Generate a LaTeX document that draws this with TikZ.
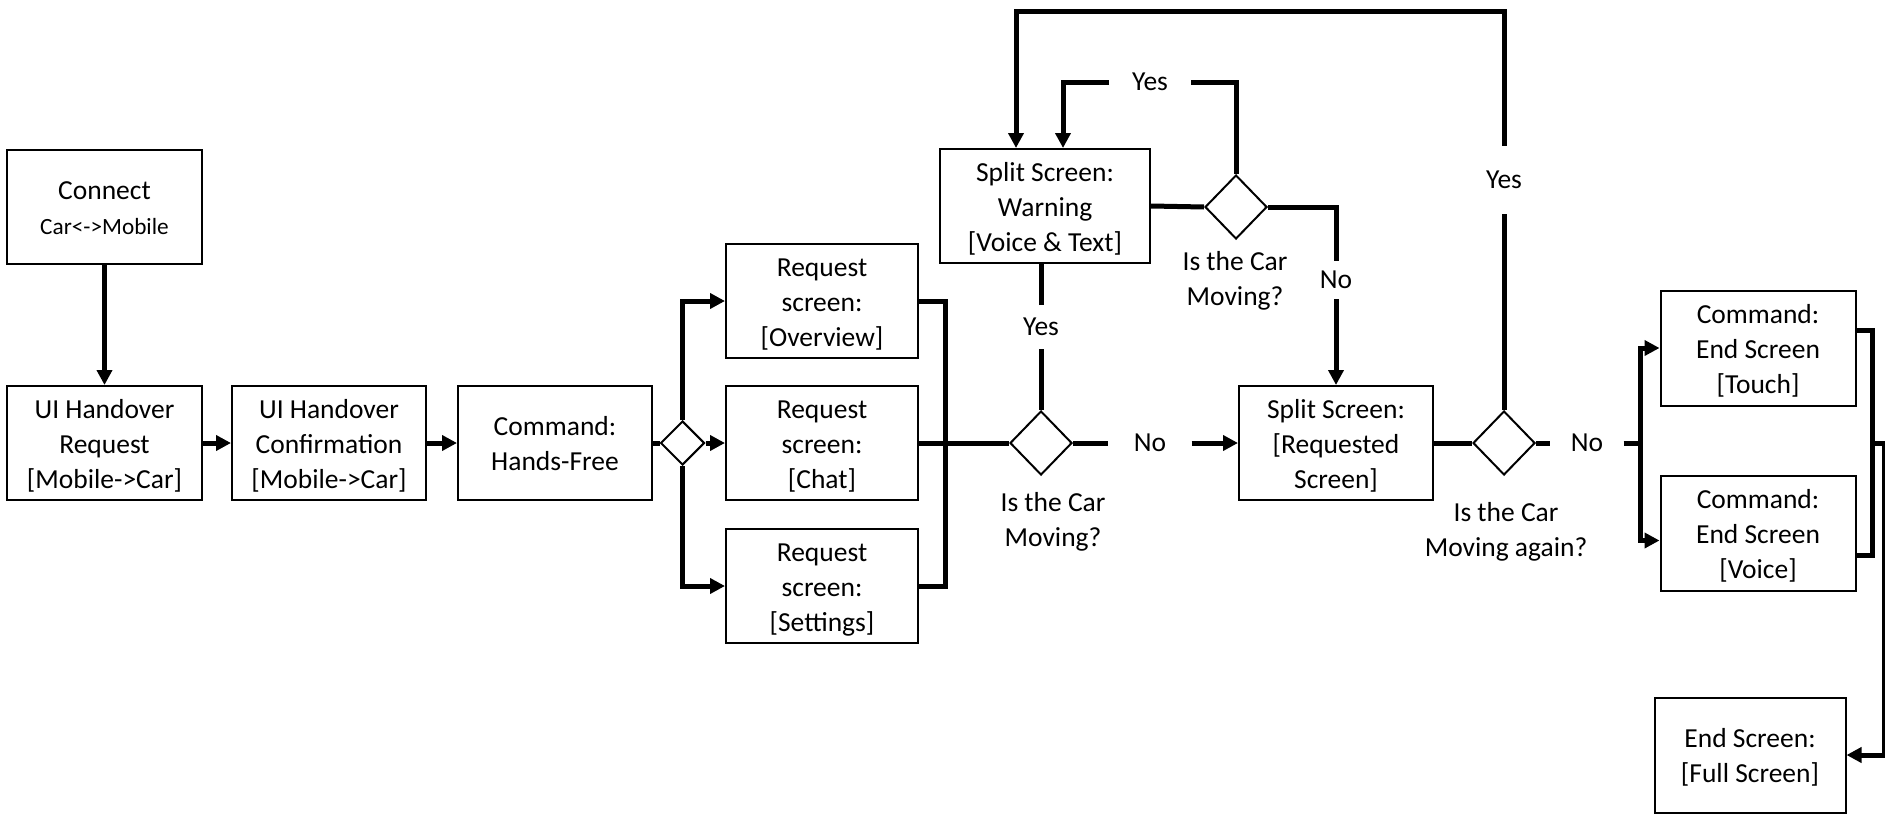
\documentclass[tikz,border=0pt]{standalone}
\usepackage{fontspec}
\setmainfont{Carlito}
\usetikzlibrary{shapes.geometric,arrows.meta}
\newcommand\bxtop{\rule{0pt}{11pt}}
\begin{document}
\begin{tikzpicture}[x=0.4pt,y=-0.4pt,
  txt/.style={font=\fontsize{11}{14}\selectfont,align=center},
  box/.style={txt,draw,line width=0.8pt,minimum width=77.6pt,minimum height=45.6pt,inner sep=1pt,text depth=3pt},
  dsmall/.style={draw,diamond,line width=0.8pt,inner sep=0pt,minimum width=17.6pt,minimum height=17.6pt},
  dbig/.style={draw,diamond,line width=0.8pt,inner sep=0pt,minimum width=24.8pt,minimum height=25.6pt},
  conn/.style={line width=2pt},
  arr/.style={conn,-{Triangle[length=6pt,width=6pt]}},
  lbl/.style={txt,inner xsep=10pt,inner ysep=3pt},
  lblv/.style={txt,inner xsep=3pt,inner ysep=5pt}]
\useasboundingbox (0,0) rectangle (1885,813);
% boxes
\node[box] (conn) at (104.5,207) {\bxtop Connect\\{\fontsize{9.3}{11}\selectfont Car<->Mobile}};
\node[box] (uireq) at (104.5,443) {\bxtop UI Handover\\Request\\{}[Mobile->Car]};
\node[box] (uiconf) at (329,443) {\bxtop UI Handover\\Confirmation\\{}[Mobile->Car]};
\node[box] (cmd) at (555,443) {\bxtop Command:\\Hands-Free};
\node[dsmall] (d1) at (682.5,443) {};
\node[box,minimum width=76.8pt] (ov) at (822,301) {\bxtop Request\\screen:\\{}[Overview]};
\node[box,minimum width=76.8pt] (chat) at (822,443) {\bxtop Request\\screen:\\{}[Chat]};
\node[box,minimum width=76.8pt] (set) at (822,586) {\bxtop Request\\screen:\\{}[Settings]};
\node[dbig] (d2) at (1041,443) {};
\node[box,minimum width=84pt] (warn) at (1045,206) {\bxtop Split Screen:\\Warning\\{}[Voice \& Text]};
\node[dbig] (d3) at (1236,207) {};
\node[box] (req) at (1336,443) {\bxtop Split Screen:\\{}[Requested\\Screen]};
\node[dbig] (d4) at (1504,443) {};
\node[box,minimum width=78pt,minimum height=46pt] (touch) at (1758,348) {\bxtop Command:\\End Screen\\{}[Touch]};
\node[box,minimum width=78pt,minimum height=46pt] (voice) at (1758,533) {\bxtop Command:\\End Screen\\{}[Voice]};
\node[box,minimum width=76.4pt,minimum height=46pt] (full) at (1750,755) {\bxtop End Screen:\\{}[Full Screen]};
% labels
\node[txt] (lab2) at (1053,522) {Is the Car\\Moving?};
\node[txt] (lab3) at (1235,281) {Is the Car\\Moving?};
\node[txt] (lab4) at (1506,532) {Is the Car\\Moving again?};
\node[lblv] (yesM) at (1041,327) {Yes};
\node[lbl] (noM) at (1150,443) {No};
\node[lbl,inner xsep=9pt] (yesT) at (1150,82) {Yes};
\node[lblv,inner ysep=4pt] (noR) at (1336,280) {No};
\node[lblv,inner ysep=10pt] (yesR) at (1504,180) {Yes};
\node[lbl,inner xsep=8pt] (noR4) at (1587,443) {No};
% coordinates
\coordinate (colT) at (945,301);
\coordinate (colB) at (945,586);
\coordinate (sL) at (1063,82);
\coordinate (loopTL) at (1016,11);
\coordinate (split) at (1640,443);
\coordinate (rc) at (1872,443);
\coordinate (edge) at (1884,443);
% connectors
\draw[arr] (conn) -- (uireq);
\draw[arr] (uireq) -- (uiconf);
\draw[arr] (uiconf) -- (cmd);
\draw[conn] (cmd) -- (d1);
\draw[arr] (d1.north) |- (ov.west);
\draw[arr] (d1.east) -- (chat.west);
\draw[arr] (d1.south) |- (set.west);
\draw[conn] (ov.east) -- (colT) -- (colB) -- (set.east);
\draw[conn] (chat.east) -- (d2.west);
\draw[conn] (d2.north) -- (yesM);
\draw[conn] (yesM) -- (yesM |- warn.south);
\draw[conn] (d2.east) -- (noM);
\draw[arr] (noM) -- (req.west);
\draw[conn] (warn.east) -- (d3.west);
\draw[conn] (d3.north) |- (yesT);
\draw[arr] (yesT) -- (sL) -- (sL |- warn.north);
\draw[conn] (d3.east) -| (noR);
\draw[arr] (noR) -- (req.north);
\draw[conn] (req.east) -- (d4.west);
\draw[conn] (d4.north) -- (yesR);
\draw[arr] (yesR) |- (loopTL) -- (loopTL |- warn.north);
\draw[conn] (d4.east) -- (noR4);
\draw[conn] (noR4) -- (split);
\draw[arr] (split) |- (touch.west);
\draw[arr] (split) |- ([yshift=-3pt]voice.west);
\draw[conn] ([yshift=7pt]touch.east) -| (rc) |- ([yshift=-9pt]voice.east);
\draw[arr] (rc) -- (edge) |- (full.east);
\end{tikzpicture}
\end{document}
